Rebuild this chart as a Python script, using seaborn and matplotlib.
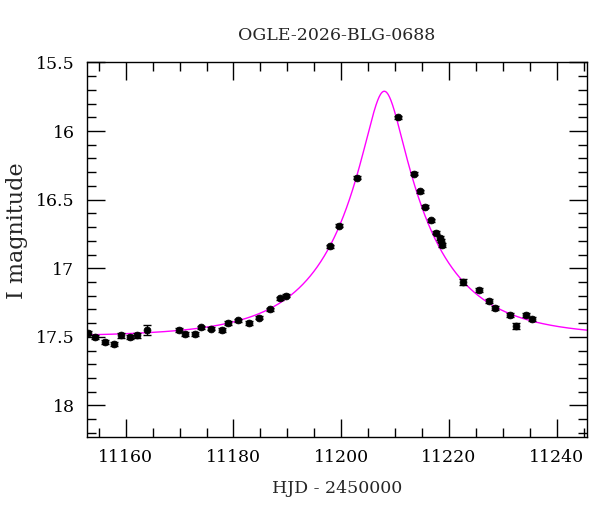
import numpy as np
import pandas as pd
import matplotlib
matplotlib.use("Agg")
import matplotlib.pyplot as plt
import seaborn as sns
from matplotlib.ticker import MultipleLocator

# Observed photometry (HJD - 2450000, I mag, error)
hjd = [11152.9, 11154.2, 11156.1, 11157.9, 11159.1, 11160.8, 11162.0, 11163.9,
       11169.8, 11171.0, 11172.8, 11173.9, 11175.8, 11177.9, 11179.0, 11180.8,
       11182.8, 11184.8, 11186.8, 11188.7, 11189.8, 11197.9, 11199.5, 11202.9,
       11210.6, 11213.6, 11214.6, 11215.6, 11216.7, 11217.6, 11218.3, 11218.6,
       11218.8, 11222.7, 11225.5, 11227.5, 11228.6, 11231.4, 11232.5, 11234.3,
       11235.4]
imag = [17.47, 17.50, 17.54, 17.55, 17.49, 17.50, 17.49, 17.45,
        17.45, 17.48, 17.48, 17.43, 17.44, 17.45, 17.40, 17.38,
        17.40, 17.36, 17.30, 17.22, 17.20, 16.84, 16.69, 16.34,
        15.90, 16.31, 16.44, 16.55, 16.65, 16.74, 16.78, 16.80,
        16.83, 17.10, 17.16, 17.24, 17.29, 17.34, 17.42, 17.34,
        17.37]
ierr = [0.015, 0.015, 0.015, 0.015, 0.015, 0.015, 0.015, 0.035,
        0.015, 0.015, 0.015, 0.012, 0.012, 0.015, 0.015, 0.012,
        0.012, 0.012, 0.012, 0.012, 0.012, 0.010, 0.010, 0.010,
        0.010, 0.010, 0.010, 0.010, 0.010, 0.010, 0.012, 0.012,
        0.012, 0.025, 0.015, 0.015, 0.015, 0.012, 0.022, 0.012,
        0.012]

# Point-lens (Paczynski) model parameters of the fitted curve
t0, tE, u0, I0 = 11208.0, 17.2, 0.195, 17.50
model_t = np.linspace(11150.0, 11247.0, 1200)
u = np.sqrt(u0 ** 2 + ((model_t - t0) / tE) ** 2)
amp = (u ** 2 + 2) / (u * np.sqrt(u ** 2 + 4))
model_i = I0 - 2.5 * np.log10(amp)

title = "OGLE-2026-BLG-0688"
xlabel = "HJD - 2450000"
ylabel = "I magnitude"

sns.set_style("ticks")
plt.rcParams["font.family"] = ["DejaVu Serif"]
plt.rcParams["mathtext.fontset"] = "dejavuserif"

fig = plt.figure(figsize=(6.0, 5.12), dpi=100)
ax = fig.add_axes([0.145, 0.1465, 0.833, 0.7315])

model_df = pd.DataFrame({"t": model_t, "I": model_i})
sns.lineplot(data=model_df, x="t", y="I", color="#ff00ff", lw=1.0, ax=ax,
             sort=False, zorder=2)

obs = pd.DataFrame({"t": hjd, "I": imag, "e": ierr})
ax.errorbar(obs["t"], obs["I"], yerr=obs["e"], fmt="none", ecolor="black",
            elinewidth=1.0, capsize=3, capthick=1.0, zorder=3)
sns.scatterplot(data=obs, x="t", y="I", color="black", s=24, edgecolor="black",
                linewidth=0.6, ax=ax, zorder=4)

ax.set_xlim(11152.8, 11245.6)
ax.set_ylim(18.23, 15.5)
ax.xaxis.set_major_locator(MultipleLocator(20))
ax.xaxis.set_minor_locator(MultipleLocator(5))
ax.yaxis.set_major_locator(MultipleLocator(0.5))
ax.yaxis.set_minor_locator(MultipleLocator(0.1))
ax.set_yticks([15.5, 16, 16.5, 17, 17.5, 18])
ax.set_yticklabels(["15.5", "16", "16.5", "17", "17.5", "18"])
ax.set_xticks([11160, 11180, 11200, 11220, 11240])
ax.set_xticklabels(["11160", "11180", "11200", "11220", "11240"])
ax.tick_params(which="both", direction="in", top=True, right=True,
               labelsize=12.5, width=1.0, colors="black")
ax.tick_params(which="major", length=13, pad=9)
ax.tick_params(which="minor", length=6.5)
for sp in ax.spines.values():
    sp.set_linewidth(1.0)
    sp.set_color("black")

ax.set_xlabel(xlabel, fontsize=12.5, labelpad=10)
ax.set_ylabel(ylabel, fontsize=16)
ax.yaxis.set_label_coords(-0.118, 0.55)
ax.set_title(title, fontsize=12.5, pad=16)

fig.savefig("out.png", dpi=100)
